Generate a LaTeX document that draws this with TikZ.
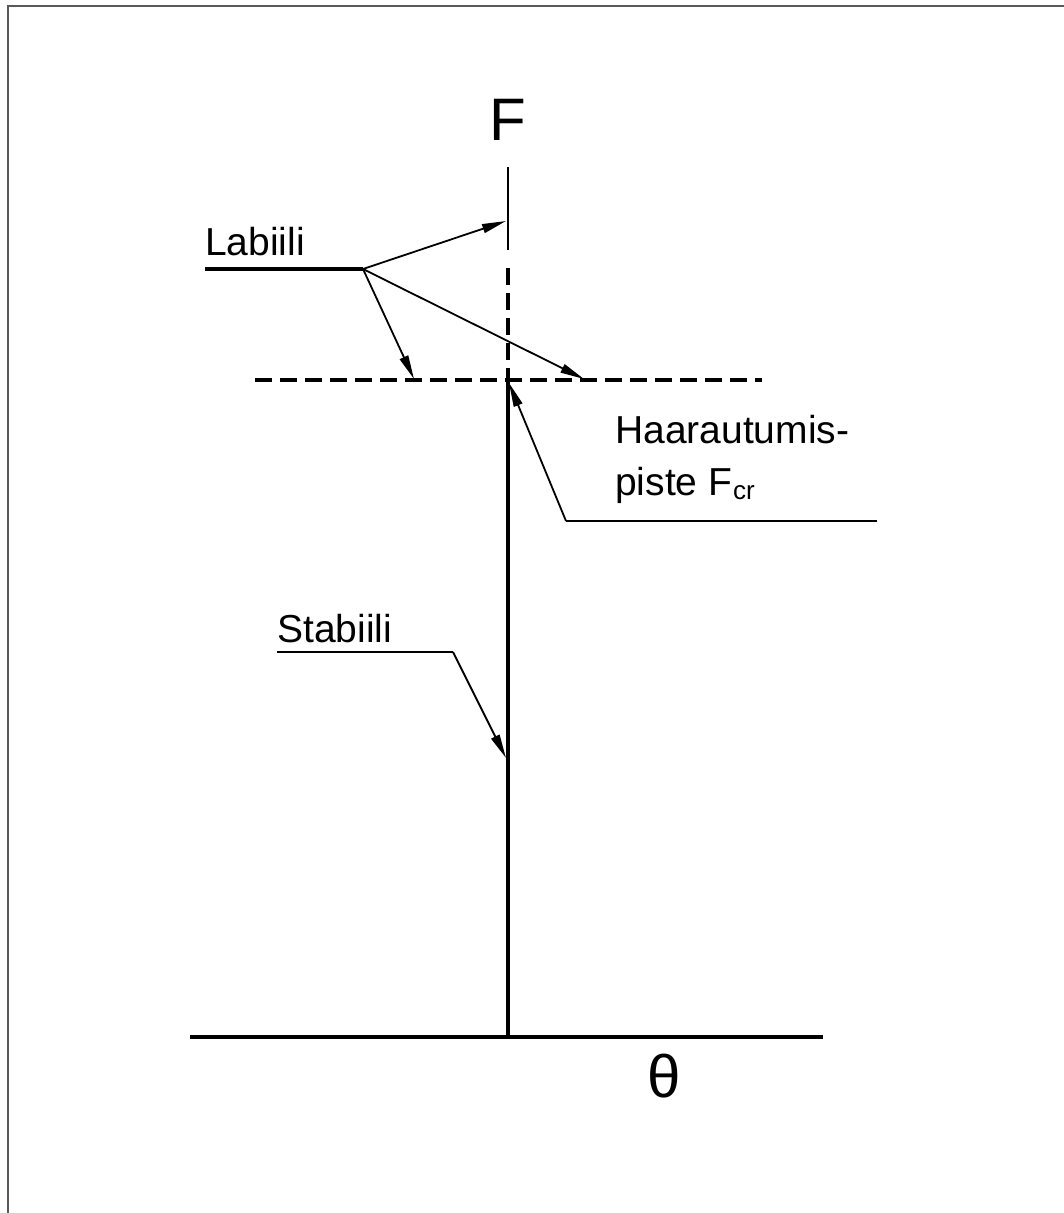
\documentclass[tikz,border=0pt]{standalone}
\usepackage{fontspec}
\setmainfont{Liberation Sans}
\usetikzlibrary{arrows.meta}
\begin{document}
\begin{tikzpicture}[x=1pt,y=-1pt,
  thick line/.style={line width=4.4pt},
  dash line/.style={line width=4.4pt, dash pattern=on 17pt off 8pt},
  leader/.style={line width=1.8pt},
  arr/.style={leader, -{Triangle[length=24pt,width=9pt]}},
  lbl/.style={inner sep=0pt, anchor=base west, font=\fontsize{39}{47}\selectfont},
  big/.style={inner sep=0pt, anchor=base, font=\fontsize{60}{68}\selectfont}]
\useasboundingbox (0,0) rectangle (1064,1213);
% frame
\draw[line width=2.4pt, gray!70!black] (8,1213) -- (8,6) -- (1064,6);
% coordinates
\coordinate (origin) at (508,1037);
\coordinate (axL) at (190,1037);
\coordinate (axR) at (823,1037);
\coordinate (bif) at (508,380);
\coordinate (dvT) at (508,268);
\coordinate (thT) at (508,167);
\coordinate (thB) at (508,250);
\coordinate (hdL) at (255,380);
\coordinate (hdR) at (762,380);
% axes and curves
\draw[thick line] (axL) -- (axR);
\draw[thick line] (origin) -- (bif);
\draw[dash line] (hdL) -- (hdR);
\draw[dash line] (dvT) -- (bif);
\draw[line width=2pt] (thB) -- (thT);
% labels
\node[big] (F) at (508,140) {F};
\node[big] (theta) at (664,1097) {θ};
% Labiili
\node[lbl] (lab) at (205,255) {Labiili};
\coordinate (labS) at (205,269);
\coordinate (labE) at (363,269);
\draw[line width=3.2pt] (labS) -- (labE);
\coordinate (t1) at (506,221);
\coordinate (t2) at (414,379);
\coordinate (t3) at (584,379);
\draw[arr] (labE) -- (t1);
\draw[arr] (labE) -- (t2);
\draw[arr] (labE) -- (t3);
% Haarautumispiste
\node[lbl] (haa) at (615,443) {Haarautumis-};
\node[lbl] (pis) at (615,495) {piste F\kern1pt\raisebox{-4pt}{\fontsize{26}{30}\selectfont cr}};
\coordinate (hR) at (877,521);
\coordinate (hK) at (566,521);
\coordinate (hT) at (509,383);
\draw[leader] (hR) -- (hK);
\draw[arr] (hK) -- (hT);
% Stabiili
\node[lbl] (sta) at (277,642) {Stabiili};
\coordinate (sL) at (277,652);
\coordinate (sK) at (453,652);
\coordinate (sT) at (506,758);
\draw[leader] (sL) -- (sK);
\draw[arr] (sK) -- (sT);
\end{tikzpicture}
\end{document}
